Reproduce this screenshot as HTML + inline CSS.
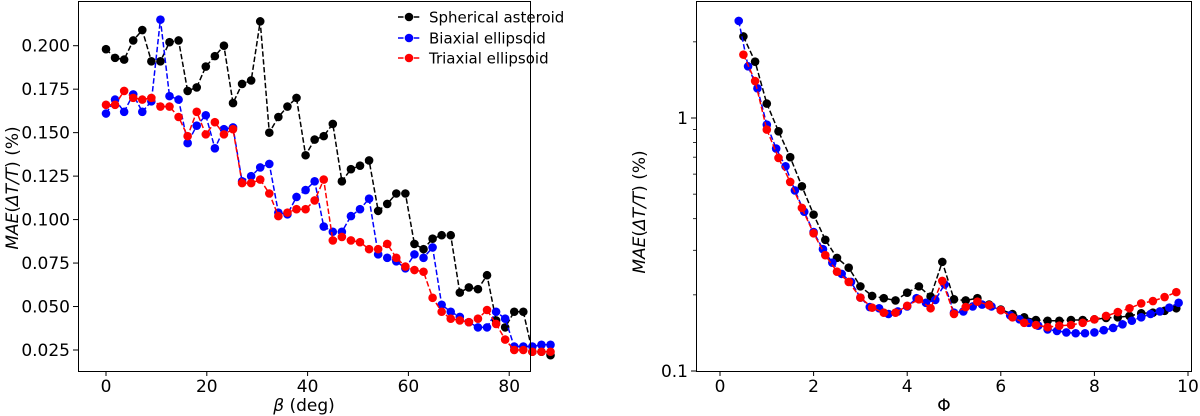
<!DOCTYPE html>
<html><head><meta charset="utf-8"><style>
html,body{margin:0;padding:0;background:#fff;}
svg{display:block;font-family:"DejaVu Sans","Liberation Sans",sans-serif;}
</style></head><body>
<svg id="fig" width="1200" height="416" viewBox="0 0 1200 416"></svg>
<script>
// ---- Left panel data ----
const betaStep = 1.8;
const leftBlack = [.198,.193,.192,.203,.209,.191,.191,.202,.203,.174,.176,.188,.194,.200,.167,.178,.180,.214,.150,.159,.165,.170,.137,.146,.148,.155,.122,.129,.131,.134,.105,.109,.115,.115,.086,.083,.089,.091,.091,.058,.061,.060,.068,.042,.038,.047,.047,.024,.024,.022];
const leftBlue = [.161,.169,.162,.172,.162,.168,.215,.171,.169,.144,.154,.160,.141,.152,.153,.122,.125,.130,.132,.104,.103,.113,.117,.122,.096,.093,.093,.102,.106,.112,.080,.078,.076,.072,.080,.078,.084,.051,.047,.044,.041,.038,.038,.047,.043,.027,.027,.027,.028,.028];
const leftRed = [.166,.166,.174,.170,.169,.170,.165,.165,.159,.148,.162,.149,.156,.149,.152,.121,.121,.123,.115,.102,.104,.106,.106,.111,.123,.088,.090,.088,.087,.083,.083,.086,.078,.073,.071,.070,.055,.047,.043,.042,.041,.043,.048,.040,.031,.025,.025,.024,.024,.024];
const leftXTicks = [0,20,40,60,80];
const leftYTicks = [0.025,0.050,0.075,0.100,0.125,0.150,0.175,0.200];
// ---- Right panel data ----
const phiBlackRed = [0.5,0.75,1,1.25,1.5,1.75,2,2.25,2.5,2.75,3,3.25,3.5,3.75,4,4.25,4.5,4.75,5,5.25,5.5,5.75,6,6.25,6.5,6.75,7,7.25,7.5,7.75,8,8.25,8.5,8.75,9,9.25,9.5,9.75];
const rightBlack = [2.10,1.67,1.14,0.886,0.700,0.537,0.415,0.330,0.280,0.256,0.216,0.198,0.194,0.190,0.204,0.216,0.197,0.270,0.192,0.190,0.194,0.183,0.175,0.168,0.163,0.159,0.158,0.158,0.159,0.159,0.160,0.162,0.163,0.165,0.169,0.170,0.173,0.177];
const rightRed = [1.78,1.40,0.90,0.695,0.559,0.441,0.350,0.287,0.247,0.225,0.195,0.178,0.170,0.170,0.181,0.192,0.177,0.227,0.168,0.179,0.188,0.182,0.174,0.163,0.155,0.152,0.149,0.151,0.152,0.155,0.160,0.165,0.171,0.177,0.185,0.189,0.196,0.205];
const phiBlue = [0.4,0.6,0.8,1.0,1.2,1.4,1.6,1.8,2.0,2.2,2.4,2.6,2.8,3.0,3.2,3.4,3.6,3.8,4.0,4.2,4.4,4.6,4.8,5.0,5.2,5.4,5.6,5.8,6.0,6.2,6.4,6.6,6.8,7.0,7.2,7.4,7.6,7.8,8.0,8.2,8.4,8.6,8.8,9.0,9.2,9.4,9.6,9.8];
const rightBlue = [2.42,1.60,1.31,0.941,0.757,0.644,0.517,0.426,0.354,0.303,0.268,0.242,0.225,0.195,0.179,0.177,0.168,0.172,0.180,0.194,0.186,0.191,0.220,0.170,0.172,0.180,0.183,0.180,0.174,0.166,0.160,0.155,0.151,0.146,0.144,0.142,0.141,0.141,0.142,0.145,0.148,0.153,0.158,0.163,0.168,0.172,0.178,0.186];
const rightXTicks = [0,2,4,6,8,10];
const rightYTicks = [0.1,1];

const NS="http://www.w3.org/2000/svg";
const svg=document.getElementById('fig');
function mk(tag,attrs,parent){const e=document.createElementNS(NS,tag);for(const k in attrs)e.setAttribute(k,attrs[k]);(parent||svg).appendChild(e);return e;}

const TOP=1, BOT=371;
const lx=v=>106+v*5.04;
const ly=v=>45.7+(0.2-v)/0.175*304.3;
const rx=v=>720+v*46.8;
const ry=v=>BOT-(Math.log10(v)+1)*253;

function series(g,xs,ys,fx,fy,color,name){
  const pts=xs.map((x,i)=>fx(x).toFixed(1)+','+fy(ys[i]).toFixed(1)).join(' ');
  const pl=mk('polyline',{points:pts,fill:'none',stroke:color,'stroke-width':1.5,'stroke-dasharray':'5.5,2.4'},g);
  
  
  xs.forEach((x,i)=>{
    const c=mk('circle',{cx:fx(x),cy:fy(ys[i]),r:4.3,fill:color},g);
    
    
  });
}

const gL=mk('g',{});


const betas=leftBlack.map((_,i)=>i*betaStep);
series(gL,betas,leftBlack,lx,ly,'#000','spherical-series');
series(gL,betas,leftBlue,lx,ly,'#0000ff','biaxial-series');
series(gL,betas,leftRed,lx,ly,'#ff0000','triaxial-series');
const fL=mk('rect',{x:78.5,y:TOP+0.5,width:452,height:BOT-TOP,fill:'none',stroke:'#000','stroke-width':1},gL);


leftXTicks.forEach(t=>{
  const x=lx(t);
  mk('line',{x1:x,x2:x,y1:BOT+0.5,y2:BOT+5,stroke:'#000'},gL);
  const tx=mk('text',{x:x,y:BOT+21,'font-size':17,'text-anchor':'middle'},gL);tx.textContent=t;
  
  
});
leftYTicks.forEach(t=>{
  const y=ly(t);
  mk('line',{x1:73,x2:78.5,y1:y,y2:y,stroke:'#000'},gL);
  const tx=mk('text',{x:70,y:y+6,'font-size':17,'text-anchor':'end'},gL);tx.textContent=t.toFixed(3);
  
  
});

const t1=mk('text',{x:304,y:411,'font-size':17,'text-anchor':'middle'},gL);
t1.innerHTML='<tspan font-style="italic">β</tspan> (deg)';


const t2=mk('text',{x:0,y:0,'font-size':17,'text-anchor':'middle',transform:'translate(18,188) rotate(-90)'},gL);
t2.innerHTML='<tspan font-style="italic">MAE</tspan>(<tspan font-style="italic">ΔT/T</tspan>) (%)';


const lg=mk('g',{},gL);


[['Spherical asteroid','#000',17],['Biaxial ellipsoid','#0000ff',38],['Triaxial ellipsoid','#ff0000',58]].forEach(e=>{
  const g=mk('g',{},lg);
  
  
  mk('line',{x1:398,x2:421,y1:e[2],y2:e[2],stroke:e[1],'stroke-width':1.5,'stroke-dasharray':'5.5,2.4'},g);
  mk('circle',{cx:409,cy:e[2],r:4.3,fill:e[1]},g);
  const t=mk('text',{x:429,y:e[2]+5.5,'font-size':15},g);t.textContent=e[0];
});

const gR=mk('g',{});


series(gR,phiBlackRed,rightBlack,rx,ry,'#000','spherical-series');
series(gR,phiBlue,rightBlue,rx,ry,'#0000ff','biaxial-series');
series(gR,phiBlackRed,rightRed,rx,ry,'#ff0000','triaxial-series');
const fR=mk('rect',{x:696.5,y:TOP+0.5,width:495,height:BOT-TOP,fill:'none',stroke:'#000','stroke-width':1},gR);


rightXTicks.forEach(t=>{
  const x=rx(t);
  mk('line',{x1:x,x2:x,y1:BOT+0.5,y2:BOT+5,stroke:'#000'},gR);
  const tx=mk('text',{x:x,y:BOT+21,'font-size':17,'text-anchor':'middle'},gR);tx.textContent=t;
  
  
});
rightYTicks.forEach(t=>{
  const y=ry(t);
  mk('line',{x1:691,x2:696.5,y1:y,y2:y,stroke:'#000'},gR);
  const tx=mk('text',{x:688,y:y+6,'font-size':17,'text-anchor':'end'},gR);tx.textContent=t;
  
  
});
for(let d=-1;d<1;d++){for(let m=2;m<10;m++){const v=m*Math.pow(10,d);const y=ry(v);if(y<TOP)continue;mk('line',{x1:693,x2:696.5,y1:y,y2:y,stroke:'#000','stroke-width':0.8},gR);}}
const t3=mk('text',{x:944,y:411,'font-size':17,'text-anchor':'middle'},gR);t3.textContent='Φ';


const t4=mk('text',{x:0,y:0,'font-size':17,'text-anchor':'middle',transform:'translate(645,212) rotate(-90)'},gR);
t4.innerHTML='<tspan font-style="italic">MAE</tspan>(<tspan font-style="italic">ΔT/T</tspan>) (%)';


</script>
</body></html>
